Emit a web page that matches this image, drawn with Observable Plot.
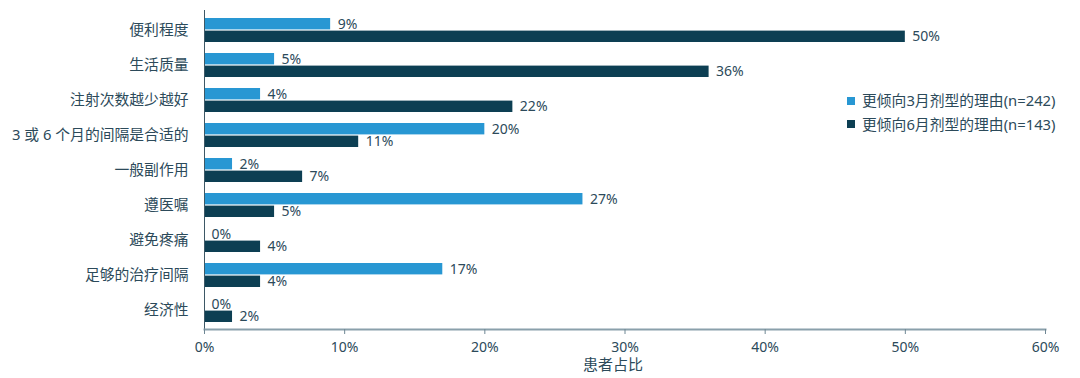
<!DOCTYPE html>
<html>
<head>
<meta charset="utf-8">
<script src="https://cdn.jsdelivr.net/npm/d3@7"></script>
<script src="https://cdn.jsdelivr.net/npm/@observablehq/plot@0.6"></script>
<style>
  body { margin: 0; background: #fff; }
  #wrap { position: relative; width: 1080px; height: 378px; font-family: 'Noto Sans', 'Noto Sans CJK SC', sans-serif; color: #2c4a5a; }
  #legend { position: absolute; left: 847px; top: 89px; font-size: 14.8px; line-height: 23.5px; }
  .item { display: flex; align-items: center; white-space: nowrap; }
  .sw { width: 8px; height: 8px; margin-right: 7px; }
</style>
</head>
<body>
<div id="wrap"><div id="chart"></div><div id="legend"></div></div>
<script>
const categories = ["便利程度","生活质量","注射次数越少越好","3 或 6 个月的间隔是合适的","一般副作用","遵医嘱","避免疼痛","足够的治疗间隔","经济性"];
const values3 = [9, 5, 4, 20, 2, 27, 0, 17, 0];
const values6 = [50, 36, 22, 11, 7, 5, 4, 4, 2];
const seriesNames = ["更倾向3月剂型的理由(n=242)", "更倾向6月剂型的理由(n=143)"];
const seriesColors = ["#2897d3", "#0d3f53"];
const xTicks = [0, 10, 20, 30, 40, 50, 60];
const axisLabel = "患者占比";

const data3 = categories.map((c, i) => ({cat: c, value: values3[i]}));
const data6 = categories.map((c, i) => ({cat: c, value: values6[i]}));
const textColor = "#2c4a5a";

const chart = Plot.plot({
  width: 1080,
  height: 378,
  marginLeft: 204,
  marginRight: 35,
  marginTop: 10,
  marginBottom: 49,
  style: {fontFamily: "'Noto Sans', 'Noto Sans CJK SC', sans-serif", fontSize: "14px", color: textColor, background: "#fff"},
  x: {domain: [0, 60]},
  y: {domain: categories, paddingInner: 0.32, paddingOuter: 0.16, axis: null},
  marks: [
    Plot.barX(data3, {x: "value", y: "cat", fill: seriesColors[0], insetBottom: 12.6}),
    Plot.barX(data6, {x: "value", y: "cat", fill: seriesColors[1], insetTop: 12.6}),
    Plot.text(data3, {x: "value", y: "cat", text: d => d.value + "%", textAnchor: "start", dx: 7, dy: -6.3, fill: textColor, fontSize: 14}),
    Plot.text(data6, {x: "value", y: "cat", text: d => d.value + "%", textAnchor: "start", dx: 7, dy: 6.3, fill: textColor, fontSize: 14}),
    Plot.ruleX([0], {stroke: "#3d5866"}),
    Plot.frame({anchor: "bottom", stroke: "#8aa0ab", strokeWidth: 2}),
    Plot.axisY({tickSize: 0, tickPadding: 16, label: null, fontSize: 14.8, fill: textColor}),
    Plot.axisX({ticks: xTicks, tickFormat: d => d + "%", tickSize: 5, tickPadding: 8, label: null, stroke: "#6f8794", fill: textColor, fontSize: 14}),
    Plot.text([axisLabel], {text: d => d, frameAnchor: "bottom", dy: 40.5, dx: -12, fontSize: 15, fill: textColor})
  ]
});
document.getElementById("chart").appendChild(chart);

const legend = document.getElementById("legend");
seriesNames.forEach((name, i) => {
  const item = document.createElement("div");
  item.className = "item";
  const sw = document.createElement("span");
  sw.className = "sw";
  sw.style.background = seriesColors[i];
  const label = document.createElement("span");
  label.textContent = name;
  item.appendChild(sw);
  item.appendChild(label);
  legend.appendChild(item);
});
</script>
</body>
</html>
